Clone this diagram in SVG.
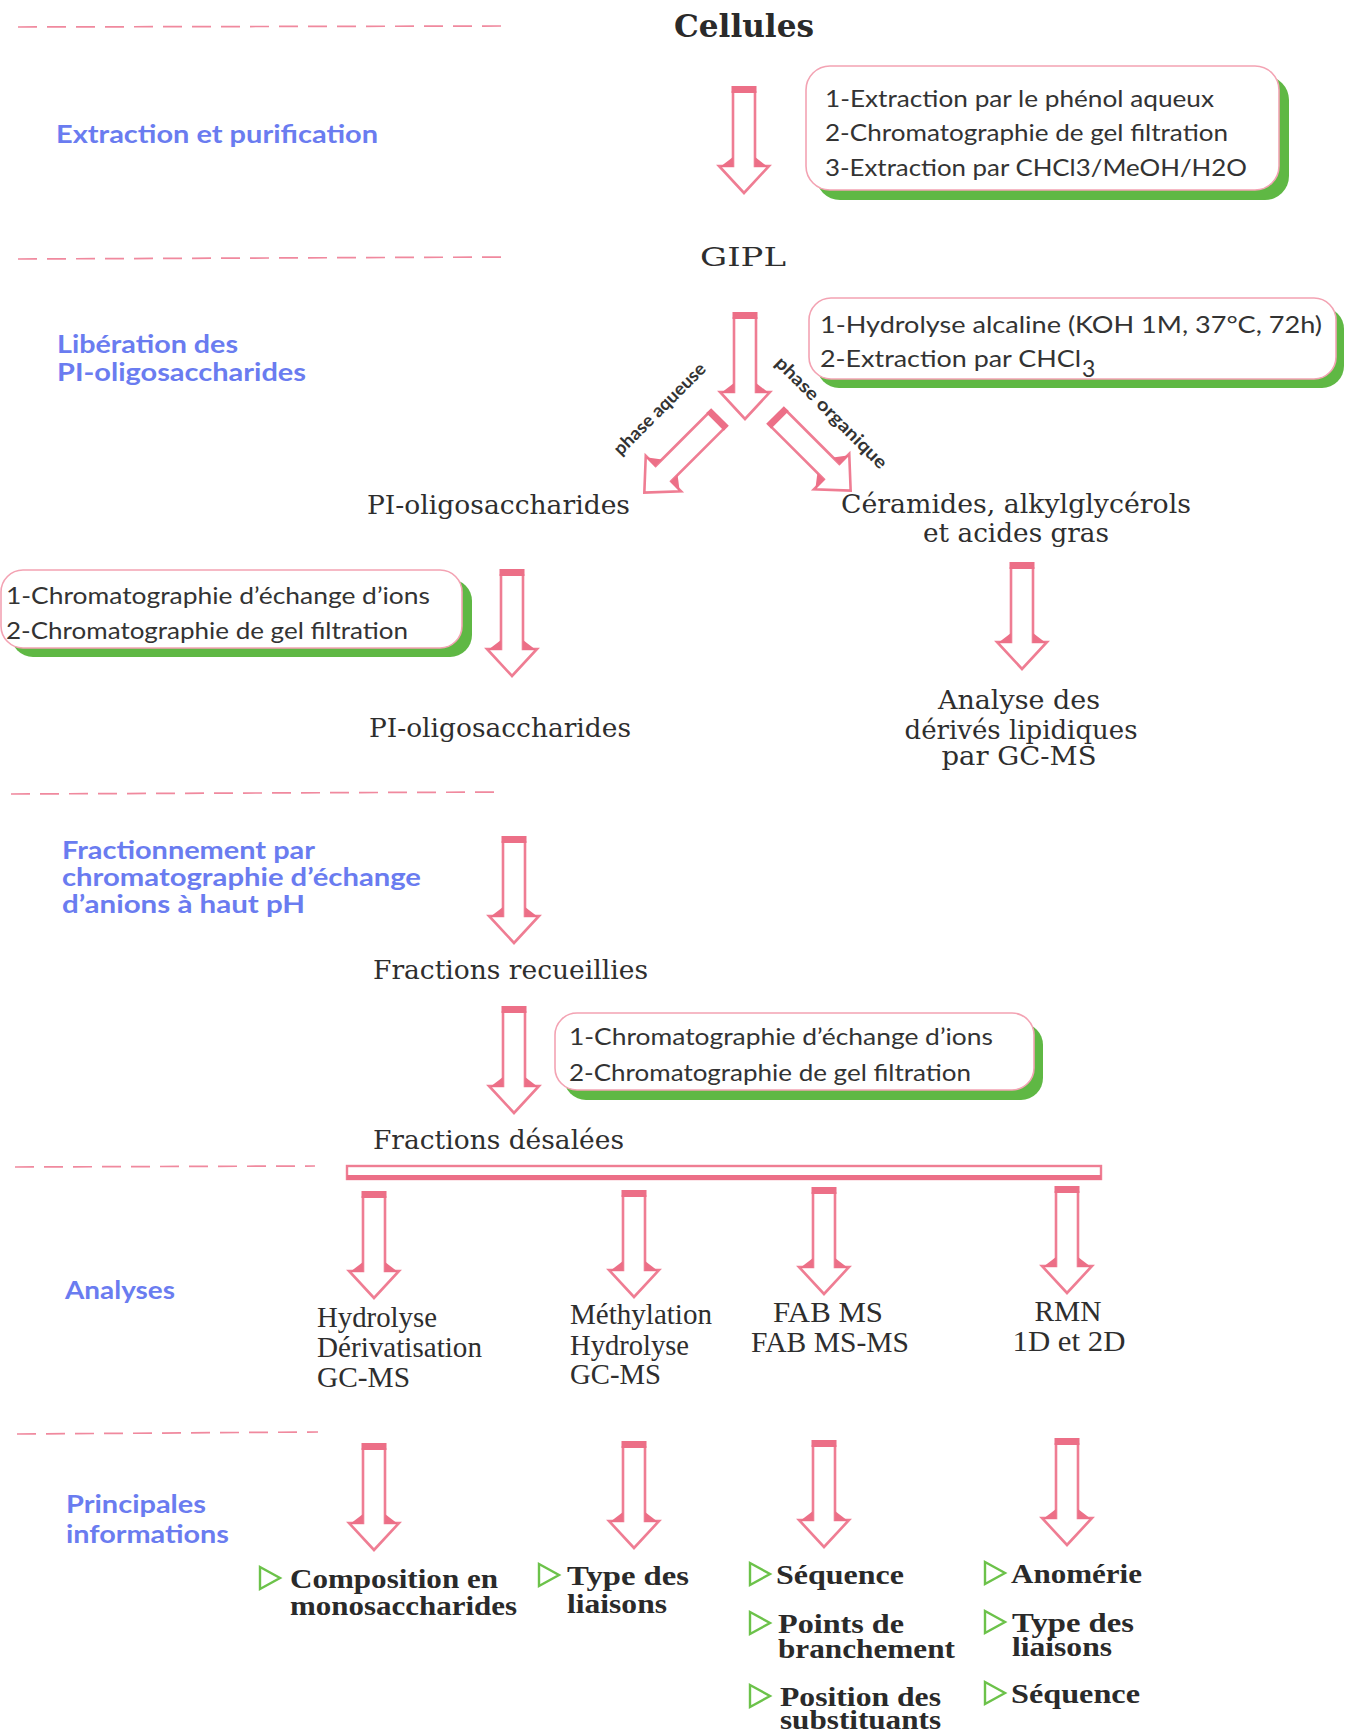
<svg xmlns="http://www.w3.org/2000/svg" xmlns:xlink="http://www.w3.org/1999/xlink" width="1349" height="1734" viewBox="0 0 1349 1734">
<style>
.dash{stroke:#f0899e;stroke-width:1.7;stroke-dasharray:19 10;fill:none}
.lbl{font-family:Lato,'Open Sans',sans-serif;font-weight:700;font-size:25px;fill:#6a7cf0}
.box{fill:#fff;stroke:#f3a3b3;stroke-width:1.6}
.shd{fill:#5fb844}
.bt{font-family:Lato,'Open Sans',sans-serif;font-size:23px;fill:#333}
.sf{font-family:'DejaVu Serif','Liberation Serif',serif;font-size:26px;fill:#2e2e2e}
.cd{font-family:'Liberation Serif',serif;font-size:29px;fill:#2e2e2e}
.cb{font-family:'Liberation Serif',serif;font-size:27px;font-weight:700;fill:#2a2a2a}
.ph{font-family:Lato,'Open Sans',sans-serif;font-weight:700;font-size:18px;fill:#333}
.tri{fill:none;stroke:#6cc24a;stroke-width:2.4;stroke-linejoin:miter}
</style>
<defs>
<g id="arr">
<path d="M-11,5 V80 H-25 L0,107 L25,80 H11 V5" fill="#fff" stroke="#ef7d93" stroke-width="2.6" stroke-linejoin="miter"/>
<rect x="-12.5" y="0" width="25" height="7" fill="#ec6f87"/>
<path d="M-11,71 V81 H-24 Z" fill="#ec6f87"/>
<path d="M11,71 V81 H24 Z" fill="#ec6f87"/>
</g>
<path id="tri" d="M0,0 L20,11 L0,22 Z"/>
</defs>
<rect width="1349" height="1734" fill="#fff"/>

<g id="separators">
<line class="dash" x1="18" y1="27" x2="508" y2="26"/>
<line class="dash" x1="18" y1="259" x2="510" y2="257"/>
<line class="dash" x1="11" y1="794" x2="504" y2="792"/>
<line class="dash" x1="15" y1="1167" x2="315" y2="1166"/>
<line class="dash" x1="17" y1="1434" x2="318" y2="1432"/>
</g>

<g id="section-labels">
<text class="lbl" x="56" y="143" textLength="322" lengthAdjust="spacingAndGlyphs">Extraction et purification</text>
<text class="lbl" x="57" y="353" textLength="181" lengthAdjust="spacingAndGlyphs">Libération des</text>
<text class="lbl" x="57" y="381" textLength="249" lengthAdjust="spacingAndGlyphs">PI-oligosaccharides</text>
<text class="lbl" x="62" y="859" textLength="253" lengthAdjust="spacingAndGlyphs">Fractionnement par</text>
<text class="lbl" x="62" y="886" textLength="359" lengthAdjust="spacingAndGlyphs">chromatographie d’échange</text>
<text class="lbl" x="62" y="913" textLength="243" lengthAdjust="spacingAndGlyphs">d’anions à haut pH</text>
<text class="lbl" x="65" y="1299" textLength="110" lengthAdjust="spacingAndGlyphs">Analyses</text>
<text class="lbl" x="66" y="1513" textLength="140" lengthAdjust="spacingAndGlyphs">Principales</text>
<text class="lbl" x="66" y="1543" textLength="163" lengthAdjust="spacingAndGlyphs">informations</text>
</g>

<g id="connectors">
<use xlink:href="#arr" href="#arr" transform="translate(744,86)"/>
<use xlink:href="#arr" href="#arr" transform="translate(720,417) rotate(45)"/>
<use xlink:href="#arr" href="#arr" transform="translate(775,415) rotate(-45)"/>
<use xlink:href="#arr" href="#arr" transform="translate(745,312)"/>
<use xlink:href="#arr" href="#arr" transform="translate(512,569)"/>
<use xlink:href="#arr" href="#arr" transform="translate(1022,562)"/>
<use xlink:href="#arr" href="#arr" transform="translate(514,836)"/>
<use xlink:href="#arr" href="#arr" transform="translate(514,1006)"/>
<rect x="347" y="1166" width="754" height="13" fill="#fff" stroke="#ef7d93" stroke-width="2.4"/>
<rect x="347" y="1175" width="754" height="5" fill="#ec6f87"/>
<use xlink:href="#arr" href="#arr" transform="translate(374,1191)"/>
<use xlink:href="#arr" href="#arr" transform="translate(634,1190)"/>
<use xlink:href="#arr" href="#arr" transform="translate(824,1187)"/>
<use xlink:href="#arr" href="#arr" transform="translate(1067,1186)"/>
<use xlink:href="#arr" href="#arr" transform="translate(374,1443)"/>
<use xlink:href="#arr" href="#arr" transform="translate(634,1441)"/>
<use xlink:href="#arr" href="#arr" transform="translate(824,1440)"/>
<use xlink:href="#arr" href="#arr" transform="translate(1067,1438)"/>
<text class="ph" transform="translate(664,413) rotate(-45)" text-anchor="middle" textLength="122" lengthAdjust="spacingAndGlyphs">phase aqueuse</text>
<text class="ph" transform="translate(827,417) rotate(45)" text-anchor="middle" textLength="150" lengthAdjust="spacingAndGlyphs">phase organique</text>
</g>

<g id="cellules">
<text x="744" y="37" text-anchor="middle" font-family="'DejaVu Serif','Liberation Serif',serif" font-weight="700" font-size="31" fill="#2a2a2a" textLength="140" lengthAdjust="spacingAndGlyphs">Cellules</text>
</g>

<g id="box-extraction">
<rect class="shd" x="816" y="76" width="473" height="124" rx="24"/>
<rect class="box" x="806" y="66" width="473" height="124" rx="24"/>
<text class="bt" x="825" y="107" textLength="389" lengthAdjust="spacingAndGlyphs">1-Extraction par le phénol aqueux</text>
<text class="bt" x="825" y="141" textLength="403" lengthAdjust="spacingAndGlyphs">2-Chromatographie de gel filtration</text>
<text class="bt" x="825" y="176" textLength="422" lengthAdjust="spacingAndGlyphs">3-Extraction par CHCl3/MeOH/H2O</text>
</g>

<g id="gipl">
<text x="743" y="266" text-anchor="middle" class="sf" font-size="29" textLength="86" lengthAdjust="spacingAndGlyphs">GIPL</text>
</g>

<g id="box-hydrolyse">
<rect class="shd" x="817" y="307" width="527" height="81" rx="22"/>
<rect class="box" x="809" y="298" width="527" height="81" rx="22"/>
<text class="bt" x="820" y="333" textLength="502" lengthAdjust="spacingAndGlyphs">1-Hydrolyse alcaline (KOH 1M, 37°C, 72h)</text>
<text class="bt" x="820" y="367" textLength="261" lengthAdjust="spacingAndGlyphs">2-Extraction par CHCl</text>
<text class="bt" x="1082" y="377">3</text>
</g>

<g id="pi-oligo-1">
<text class="sf" x="367" y="514" textLength="263" lengthAdjust="spacingAndGlyphs">PI-oligosaccharides</text>
</g>

<g id="ceramides">
<text class="sf" x="841" y="513" textLength="350" lengthAdjust="spacingAndGlyphs">Céramides, alkylglycérols</text>
<text class="sf" x="1016" y="542" text-anchor="middle" textLength="186" lengthAdjust="spacingAndGlyphs">et acides gras</text>
</g>

<g id="box-chromato-1">
<rect class="shd" x="11" y="579" width="461" height="78" rx="22"/>
<rect class="box" x="1" y="570" width="461" height="78" rx="22"/>
<text class="bt" x="6" y="604" textLength="424" lengthAdjust="spacingAndGlyphs">1-Chromatographie d’échange d’ions</text>
<text class="bt" x="6" y="639" textLength="402" lengthAdjust="spacingAndGlyphs">2-Chromatographie de gel filtration</text>
</g>

<g id="pi-oligo-2">
<text class="sf" x="369" y="737" textLength="262" lengthAdjust="spacingAndGlyphs">PI-oligosaccharides</text>
</g>

<g id="analyse-lipides">
<text class="sf" x="1019" y="709" text-anchor="middle" textLength="162" lengthAdjust="spacingAndGlyphs">Analyse des</text>
<text class="sf" x="1021" y="739" text-anchor="middle" textLength="233" lengthAdjust="spacingAndGlyphs">dérivés lipidiques</text>
<text class="sf" x="1019" y="765" text-anchor="middle" textLength="155" lengthAdjust="spacingAndGlyphs">par GC-MS</text>
</g>

<g id="fractions-recueillies">
<text class="sf" x="373" y="979" textLength="275" lengthAdjust="spacingAndGlyphs">Fractions recueillies</text>
</g>

<g id="box-chromato-2">
<rect class="shd" x="564" y="1023" width="479" height="77" rx="22"/>
<rect class="box" x="555" y="1013" width="479" height="77" rx="22"/>
<text class="bt" x="569" y="1045" textLength="424" lengthAdjust="spacingAndGlyphs">1-Chromatographie d’échange d’ions</text>
<text class="bt" x="569" y="1081" textLength="402" lengthAdjust="spacingAndGlyphs">2-Chromatographie de gel filtration</text>
</g>

<g id="fractions-desalees">
<text class="sf" x="373" y="1149" textLength="251" lengthAdjust="spacingAndGlyphs">Fractions désalées</text>
</g>

<g id="analyse-hydrolyse">
<text class="cd" x="317" y="1327" textLength="120" lengthAdjust="spacingAndGlyphs">Hydrolyse</text>
<text class="cd" x="317" y="1357" textLength="165" lengthAdjust="spacingAndGlyphs">Dérivatisation</text>
<text class="cd" x="317" y="1387" textLength="93" lengthAdjust="spacingAndGlyphs">GC-MS</text>
</g>
<g id="analyse-methylation">
<text class="cd" x="570" y="1324" textLength="142" lengthAdjust="spacingAndGlyphs">Méthylation</text>
<text class="cd" x="570" y="1355" textLength="119" lengthAdjust="spacingAndGlyphs">Hydrolyse</text>
<text class="cd" x="570" y="1384" textLength="91" lengthAdjust="spacingAndGlyphs">GC-MS</text>
</g>
<g id="analyse-fab">
<text class="cd" x="828" y="1322" text-anchor="middle" textLength="110" lengthAdjust="spacingAndGlyphs">FAB MS</text>
<text class="cd" x="830" y="1352" text-anchor="middle" textLength="158" lengthAdjust="spacingAndGlyphs">FAB MS-MS</text>
</g>
<g id="analyse-rmn">
<text class="cd" x="1068" y="1321" text-anchor="middle" textLength="67" lengthAdjust="spacingAndGlyphs">RMN</text>
<text class="cd" x="1069" y="1351" text-anchor="middle" textLength="113" lengthAdjust="spacingAndGlyphs">1D et 2D</text>
</g>

<g id="info-composition">
<use xlink:href="#tri" href="#tri" class="tri" transform="translate(260,1567)"/>
<text class="cb" x="290" y="1588" textLength="208" lengthAdjust="spacingAndGlyphs">Composition en</text>
<text class="cb" x="290" y="1615" textLength="227" lengthAdjust="spacingAndGlyphs">monosaccharides</text>
</g>
<g id="info-liaisons">
<use xlink:href="#tri" href="#tri" class="tri" transform="translate(539,1564)"/>
<text class="cb" x="567" y="1585" textLength="122" lengthAdjust="spacingAndGlyphs">Type des</text>
<text class="cb" x="567" y="1613" textLength="100" lengthAdjust="spacingAndGlyphs">liaisons</text>
</g>
<g id="info-fab">
<use xlink:href="#tri" href="#tri" class="tri" transform="translate(750,1563)"/>
<text class="cb" x="776" y="1584" textLength="128" lengthAdjust="spacingAndGlyphs">Séquence</text>
<use xlink:href="#tri" href="#tri" class="tri" transform="translate(750,1612)"/>
<text class="cb" x="778" y="1633" textLength="126" lengthAdjust="spacingAndGlyphs">Points de</text>
<text class="cb" x="778" y="1658" textLength="177" lengthAdjust="spacingAndGlyphs">branchement</text>
<use xlink:href="#tri" href="#tri" class="tri" transform="translate(750,1685)"/>
<text class="cb" x="780" y="1706" textLength="161" lengthAdjust="spacingAndGlyphs">Position des</text>
<text class="cb" x="780" y="1729" textLength="161" lengthAdjust="spacingAndGlyphs">substituants</text>
</g>
<g id="info-rmn">
<use xlink:href="#tri" href="#tri" class="tri" transform="translate(985,1562)"/>
<text class="cb" x="1011" y="1583" textLength="131" lengthAdjust="spacingAndGlyphs">Anomérie</text>
<use xlink:href="#tri" href="#tri" class="tri" transform="translate(985,1611)"/>
<text class="cb" x="1012" y="1632" textLength="122" lengthAdjust="spacingAndGlyphs">Type des</text>
<text class="cb" x="1012" y="1656" textLength="100" lengthAdjust="spacingAndGlyphs">liaisons</text>
<use xlink:href="#tri" href="#tri" class="tri" transform="translate(985,1682)"/>
<text class="cb" x="1011" y="1703" textLength="129" lengthAdjust="spacingAndGlyphs">Séquence</text>
</g>
</svg>
